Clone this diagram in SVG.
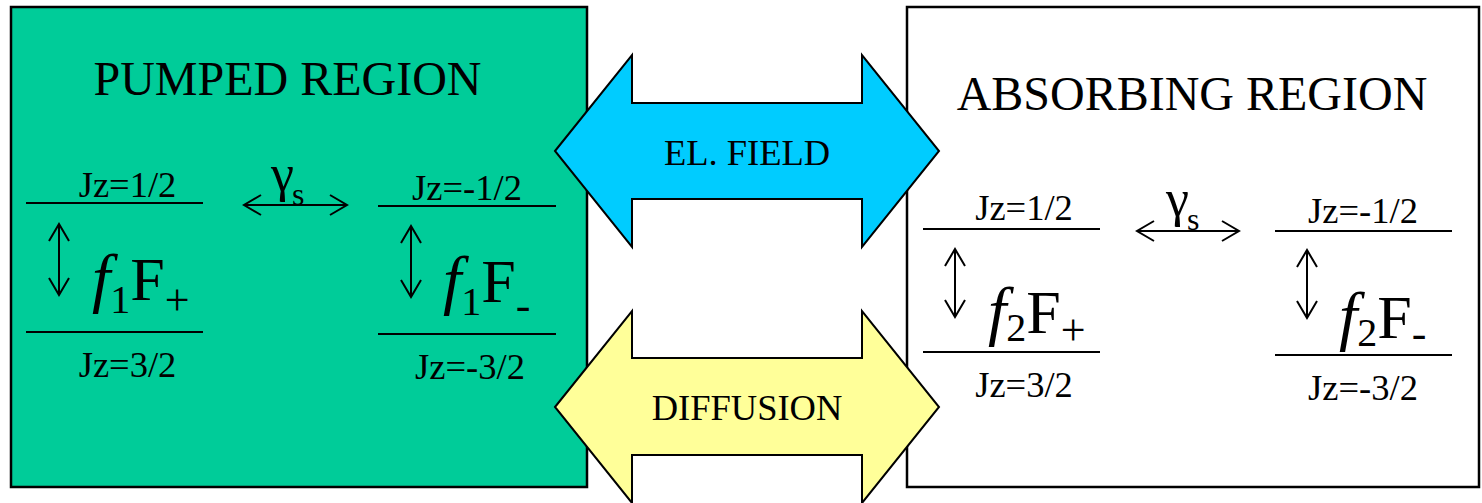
<svg xmlns="http://www.w3.org/2000/svg" width="1482" height="503" viewBox="0 0 1482 503">
<style>
text{font-family:"Liberation Serif","Times New Roman",serif;fill:#000}
.t{font-size:36.5px;text-anchor:middle}
.title{font-size:48px;text-anchor:middle}
.lvl{stroke:#000;stroke-width:2;fill:none}
.arr{stroke:#000;stroke-width:2;fill:none;marker-start:url(#oh);marker-end:url(#oh)}
.big{font-size:62px}
.fi{font-style:italic;font-size:66px}
.g{font-size:52px}
.s{font-size:32px}
.box{stroke:#000;stroke-width:2.5}
.fat{stroke:#000;stroke-width:2}
</style>
<defs>
<marker id="oh" viewBox="0 0 20 22" refX="18" refY="11" markerWidth="20" markerHeight="22" markerUnits="userSpaceOnUse" orient="auto-start-reverse">
<path d="M1,1 L18,11 L1,21" fill="none" stroke="#000" stroke-width="2"/>
</marker>
</defs>
<g id="pumped">
<rect class="box" x="11" y="7" width="576" height="480" fill="#00CC99"/>
<text class="title" x="287.5" y="95">PUMPED REGION</text>
</g>
<g id="absorbing">
<rect class="box" x="907" y="7" width="572" height="480" fill="#FFFFFF"/>
<text class="title" x="1192" y="110">ABSORBING REGION</text>
</g>
<g id="elfield">
<path class="fat" fill="#00CCFF" d="M555,151 L632,55 L632,103 L862,103 L862,55 L939,151 L862,247 L862,199 L632,199 L632,247 Z"/>
<text class="t" x="747" y="165">EL. FIELD</text>
</g>
<g id="diffusion">
<path class="fat" fill="#FFFF99" d="M555,407 L632,311 L632,358 L862,358 L862,311 L939,407 L862,503 L862,455 L632,455 L632,503 Z"/>
<text class="t" x="747" y="420">DIFFUSION</text>
</g>
<g id="pumped-plus">
<text class="t" x="127.5" y="197">Jz=1/2</text>
<line class="lvl" x1="26" y1="203" x2="203" y2="203"/>
<text class="big" x="92" y="300"><tspan class="fi">f</tspan><tspan font-size="40" dy="13">1</tspan><tspan dy="-13">F</tspan><tspan font-size="44" dy="15">+</tspan></text>
<line class="lvl" x1="26" y1="332" x2="203" y2="332"/>
<text class="t" x="127.5" y="377">Jz=3/2</text>
</g>
<g id="pumped-minus">
<text class="t" x="467" y="200">Jz=-1/2</text>
<line class="lvl" x1="378" y1="206" x2="556" y2="206"/>
<text class="big" x="443" y="302"><tspan class="fi">f</tspan><tspan font-size="40" dy="13">1</tspan><tspan dy="-13">F</tspan><tspan font-size="44" dy="18">-</tspan></text>
<line class="lvl" x1="378" y1="334" x2="556" y2="334"/>
<text class="t" x="470" y="379">Jz=-3/2</text>
</g>
<g id="pumped-gamma">
<text class="g" x="271" y="191">γ</text>
<text class="s" x="292" y="205">s</text>
</g>
<g id="absorbing-plus">
<text class="t" x="1024" y="220">Jz=1/2</text>
<line class="lvl" x1="923" y1="229" x2="1100" y2="229"/>
<text class="big" x="988" y="333"><tspan class="fi">f</tspan><tspan font-size="40" dy="8">2</tspan><tspan dy="-8">F</tspan><tspan font-size="44" dy="12">+</tspan></text>
<line class="lvl" x1="923" y1="352" x2="1100" y2="352"/>
<text class="t" x="1024" y="397">Jz=3/2</text>
</g>
<g id="absorbing-minus">
<text class="t" x="1363" y="223">Jz=-1/2</text>
<line class="lvl" x1="1275" y1="231" x2="1452" y2="231"/>
<text class="big" x="1339" y="338"><tspan class="fi">f</tspan><tspan font-size="40" dy="8">2</tspan><tspan dy="-8">F</tspan><tspan font-size="44" dy="10">-</tspan></text>
<line class="lvl" x1="1275" y1="355" x2="1452" y2="355"/>
<text class="t" x="1363" y="400">Jz=-3/2</text>
</g>
<g id="absorbing-gamma">
<text class="g" x="1166" y="216">γ</text>
<text class="s" x="1187" y="230">s</text>
</g>
<g id="connectors">
<line class="arr" x1="244" y1="205" x2="347" y2="205"/>
<line class="arr" x1="1137" y1="231" x2="1239" y2="231"/>
<line class="arr" x1="59" y1="224" x2="59" y2="295"/>
<line class="arr" x1="411" y1="226" x2="411" y2="297"/>
<line class="arr" x1="955" y1="249" x2="955" y2="317"/>
<line class="arr" x1="1307" y1="250" x2="1307" y2="318"/>
</g>
</svg>
